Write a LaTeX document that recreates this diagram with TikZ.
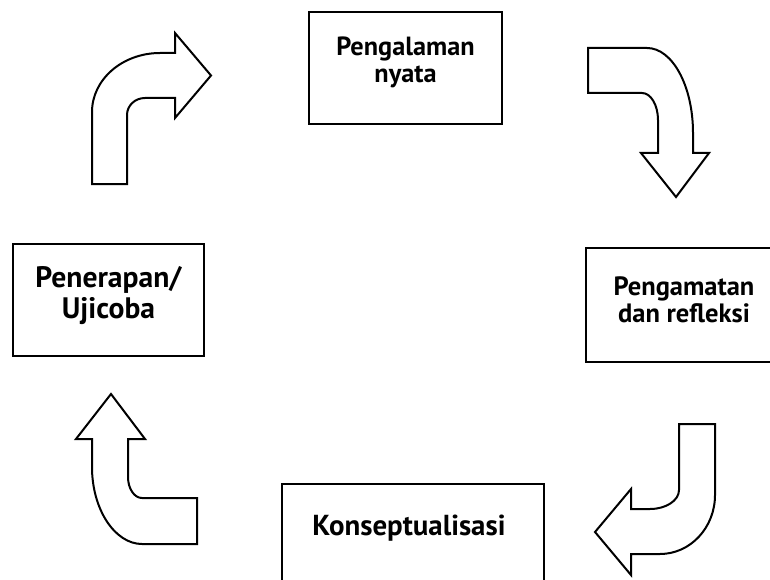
\documentclass[tikz,border=0pt]{standalone}
\usepackage{fontspec}
\setmainfont{PT Sans}
\begin{document}
\begin{tikzpicture}[x=1pt,y=-1pt,
  box/.style={draw=black, line width=2pt, fill=white, inner sep=0pt},
  lbl/.style={align=center, inner sep=0pt},
  bent/.style={draw=black, line width=2pt, fill=white, line join=miter}]
\useasboundingbox (0,0) rectangle (770,580);
\clip (0,0) rectangle (770,580);
\fill[white] (0,0) rectangle (770,580);
% boxes
\node[box, minimum width=193pt, minimum height=112pt] (b1) at (405.5,68) {};
\node[box, minimum width=196pt, minimum height=114pt] (b2) at (684,305) {};
\node[box, minimum width=262pt, minimum height=106pt] (b3) at (413,537) {};
\node[box, minimum width=191pt, minimum height=112pt] (b4) at (108.5,300) {};
% texts
\node[lbl, font=\bfseries\fontsize{26.3}{27}\selectfont] (t1) at (405.5,62.5) {Pengalaman\\nyata};
\node[lbl, font=\bfseries\fontsize{26.5}{27}\selectfont] (t2) at (684,300) {Pengamatan\\dan refleksi};
\node[lbl, font=\bfseries\fontsize{28.9}{30}\selectfont, anchor=base] (t3) at (409,535) {Konseptualisasi};
\node[lbl, font=\bfseries\fontsize{29.6}{31}\selectfont] (t4) at (108.5,296) {Penerapan/\\Ujicoba};
% arrow 1: up then right
\draw[bent] (92,184) -- (92,112) .. controls (92,79.4) and (122.5,53) .. (160,53)
  -- (175,53) -- (175,33) -- (211,75.5) -- (175,118) -- (175,98) -- (145,98)
  .. controls (135,98) and (127,105.6) .. (127,115) -- (127,184) -- cycle;
% arrow 2: right then down
\draw[bent] (588,48) -- (647,48) .. controls (672.4,48) and (693,86) .. (693,133)
  -- (693,153) -- (709,153) -- (676,197) -- (641,153) -- (658,153) -- (658,120)
  .. controls (658,105) and (650.8,93) .. (642,93) -- (588,93) -- cycle;
% arrow 3: down then left
\draw[bent] (679,424) -- (715,424) -- (715,495) .. controls (715,527.6) and (690.4,554) .. (660,554)
  -- (631,554) -- (631,575) -- (595,532) -- (631,489) -- (631,509) -- (650,509)
  .. controls (666,509) and (679,500.5) .. (679,490) -- cycle;
% arrow 4: left then up
\draw[bent] (197,498) -- (197,544) -- (142,544) .. controls (115,544) and (92,509.5) .. (92,467)
  -- (92,439) -- (76,439) -- (111,394) -- (145,439) -- (128,439) -- (128,477)
  .. controls (128,488.6) and (134.3,498) .. (142,498) -- cycle;
\end{tikzpicture}
\end{document}
